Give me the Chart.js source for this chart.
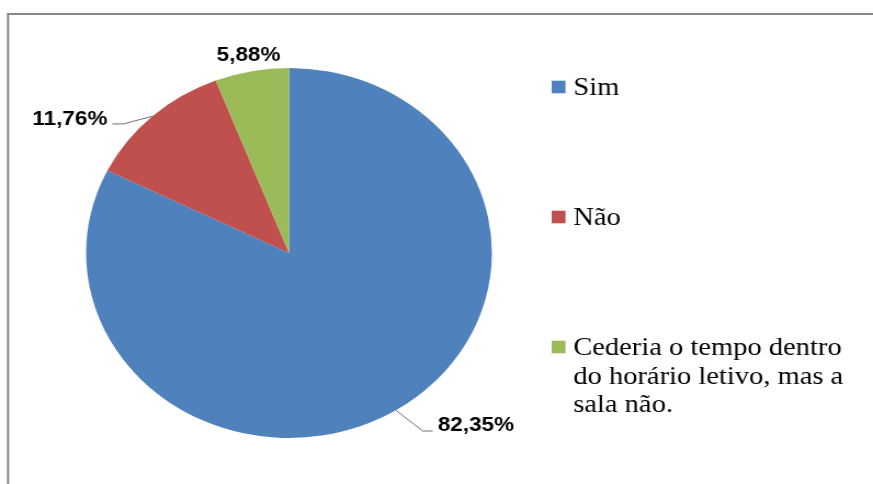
<!DOCTYPE html>
<html>
<head>
<meta charset="utf-8">
<script src="https://cdn.jsdelivr.net/npm/chart.js@4/dist/chart.umd.min.js"></script>
<style>
    html, body { margin: 0; padding: 0; background: #fff; }
</style>
</head>
<body>
<!-- source image is stretched horizontally, so the canvas is drawn narrower and widened by css -->
<canvas id="pie" width="796" height="484" style="width:873px;height:484px"></canvas>
<script>
const categories = ["Sim", "Não", "Cederia o tempo dentro do horário letivo, mas a sala não."];
const percentages = [82.35, 11.76, 5.88];
const sliceColors = ["#4F81BD", "#C0504D", "#9BBB59"];

(() => {
    "use strict";

    // where each value label sits relative to the middle of its slice's outer edge
    let labelPlacement = [
        { elbow: [24.7, 20.7], run: 9, align: "left", gap: 4.6, base: 0 },
        { elbow: [-26.5, 7.7], run: -10, align: "right", gap: 4.5, base: 1 },
        { elbow: null, shift: [-2.9, -10], align: "center" }
    ];

    let frame = {
        id: "frame",
        beforeDraw(chart) {
            let ctx = chart.ctx;
            ctx.save();
            ctx.strokeStyle = "#868686";
            ctx.lineWidth = 2;
            ctx.beginPath();
            ctx.moveTo(7.3, chart.height);
            ctx.lineTo(7.3, 14);
            ctx.lineTo(chart.width, 14);
            ctx.stroke();
            ctx.restore();
        }
    };

    let valueLabels = {
        id: "valueLabels",
        afterDatasetsDraw(chart) {
            let ctx = chart.ctx;
            let arcs = chart.getDatasetMeta(0).data;
            ctx.save();
            ctx.font = "bold 20.5px 'Liberation Sans', Arial, sans-serif";
            ctx.fillStyle = "#000";
            ctx.strokeStyle = "#6e6e6e";
            ctx.lineWidth = 1;
            ctx.textBaseline = "alphabetic";
            arcs.forEach((arc, i) => {
                let p = arc.getProps(["x", "y", "startAngle", "endAngle", "outerRadius"], true);
                let mid = (p.startAngle + p.endAngle) / 2;
                let px = p.x + Math.cos(mid) * p.outerRadius;
                let py = p.y + Math.sin(mid) * p.outerRadius;
                let text = percentages[i].toFixed(2).replace(".", ",") + "%";
                let place = labelPlacement[i];
                ctx.textAlign = place.align;
                if (place.elbow) {
                    let ex = px + place.elbow[0];
                    let ey = py + place.elbow[1];
                    let endX = ex + place.run;
                    ctx.beginPath();
                    ctx.moveTo(px, py);
                    ctx.lineTo(ex, ey);
                    ctx.lineTo(endX, ey);
                    ctx.stroke();
                    let tx = place.align === "left" ? endX + place.gap : endX - place.gap;
                    ctx.fillText(text, tx, ey + place.base);
                } else {
                    ctx.fillText(text, px + place.shift[0], py + place.shift[1]);
                }
            });
            ctx.restore();
        }
    };

    let sideLegend = {
        id: "sideLegend",
        afterDraw(chart) {
            let ctx = chart.ctx;
            let boxX = 503, boxSize = 12.6, textX = 522.7;
            let firstBase = 95, step = 130, lineHeight = 28.7, maxWidth = 255;
            ctx.save();
            ctx.font = "26px 'Liberation Serif', 'Times New Roman', serif";
            ctx.textAlign = "left";
            ctx.textBaseline = "alphabetic";
            chart.data.labels.forEach((label, i) => {
                let words = label.split(" ");
                let lines = [];
                let line = "";
                words.forEach(w => {
                    let test = line ? line + " " + w : w;
                    if (line && ctx.measureText(test).width > maxWidth) {
                        lines.push(line);
                        line = w;
                    } else {
                        line = test;
                    }
                });
                lines.push(line);
                let base = firstBase + step * i;
                ctx.fillStyle = chart.data.datasets[0].backgroundColor[i];
                ctx.fillRect(boxX, base - 14.3, boxSize, boxSize);
                ctx.fillStyle = "#000";
                lines.forEach((l, k) => ctx.fillText(l, textX, base + k * lineHeight));
            });
            ctx.restore();
        }
    };

    let context = document.getElementById("pie").getContext("2d");
    new Chart(context, {
        type: "pie",
        data: {
            labels: categories,
            datasets: [{
                data: percentages,
                backgroundColor: sliceColors,
                borderWidth: 0
            }]
        },
        options: {
            responsive: false,
            devicePixelRatio: 1,
            animation: false,
            events: [],
            layout: {
                padding: { left: 78.5, top: 68, right: 347.5, bottom: 46 }
            },
            plugins: {
                legend: { display: false },
                tooltip: { enabled: false }
            }
        },
        plugins: [frame, valueLabels, sideLegend]
    });
})();
</script>
</body>
</html>
